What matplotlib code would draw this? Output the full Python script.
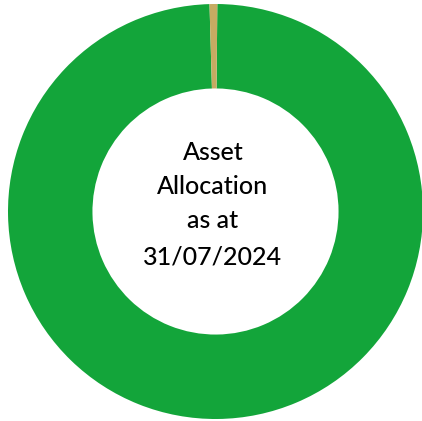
import matplotlib.pyplot as plt

# allocation shares (percent)
labels = ["Cash", "Other"]
shares = [99.4, 0.6]
colors = ["#13a53a", "#c6ab62"]
centre_lines = ["Asset", "Allocation", "as at", "31/07/2024"]

W, H = 422, 421
cx, cy, r = 215.5, 211.5, 207.5  # pie centre / radius in pixels

fig = plt.figure(figsize=(W / 100, H / 100), dpi=100)
ax = fig.add_axes([0, 0, 1, 1])
ax.pie(shares, colors=colors, startangle=89.5, counterclock=False,
       radius=1.0, wedgeprops=dict(width=0.407, linewidth=0))
ax.set_aspect("auto")
ax.set_xlim(-cx / r, (W - cx) / r)
ax.set_ylim(-(H - cy) / r, cy / r)
ax.axis("off")

line_y = [152, 186, 221, 257]
for txt, ypx in zip(centre_lines, line_y):
    ax.text((213 - cx) / r, (cy - ypx) / r, txt, ha="center", va="center",
            fontsize=18, family="Lato", fontweight="medium", color="black")

fig.savefig("out.png", dpi=100)
